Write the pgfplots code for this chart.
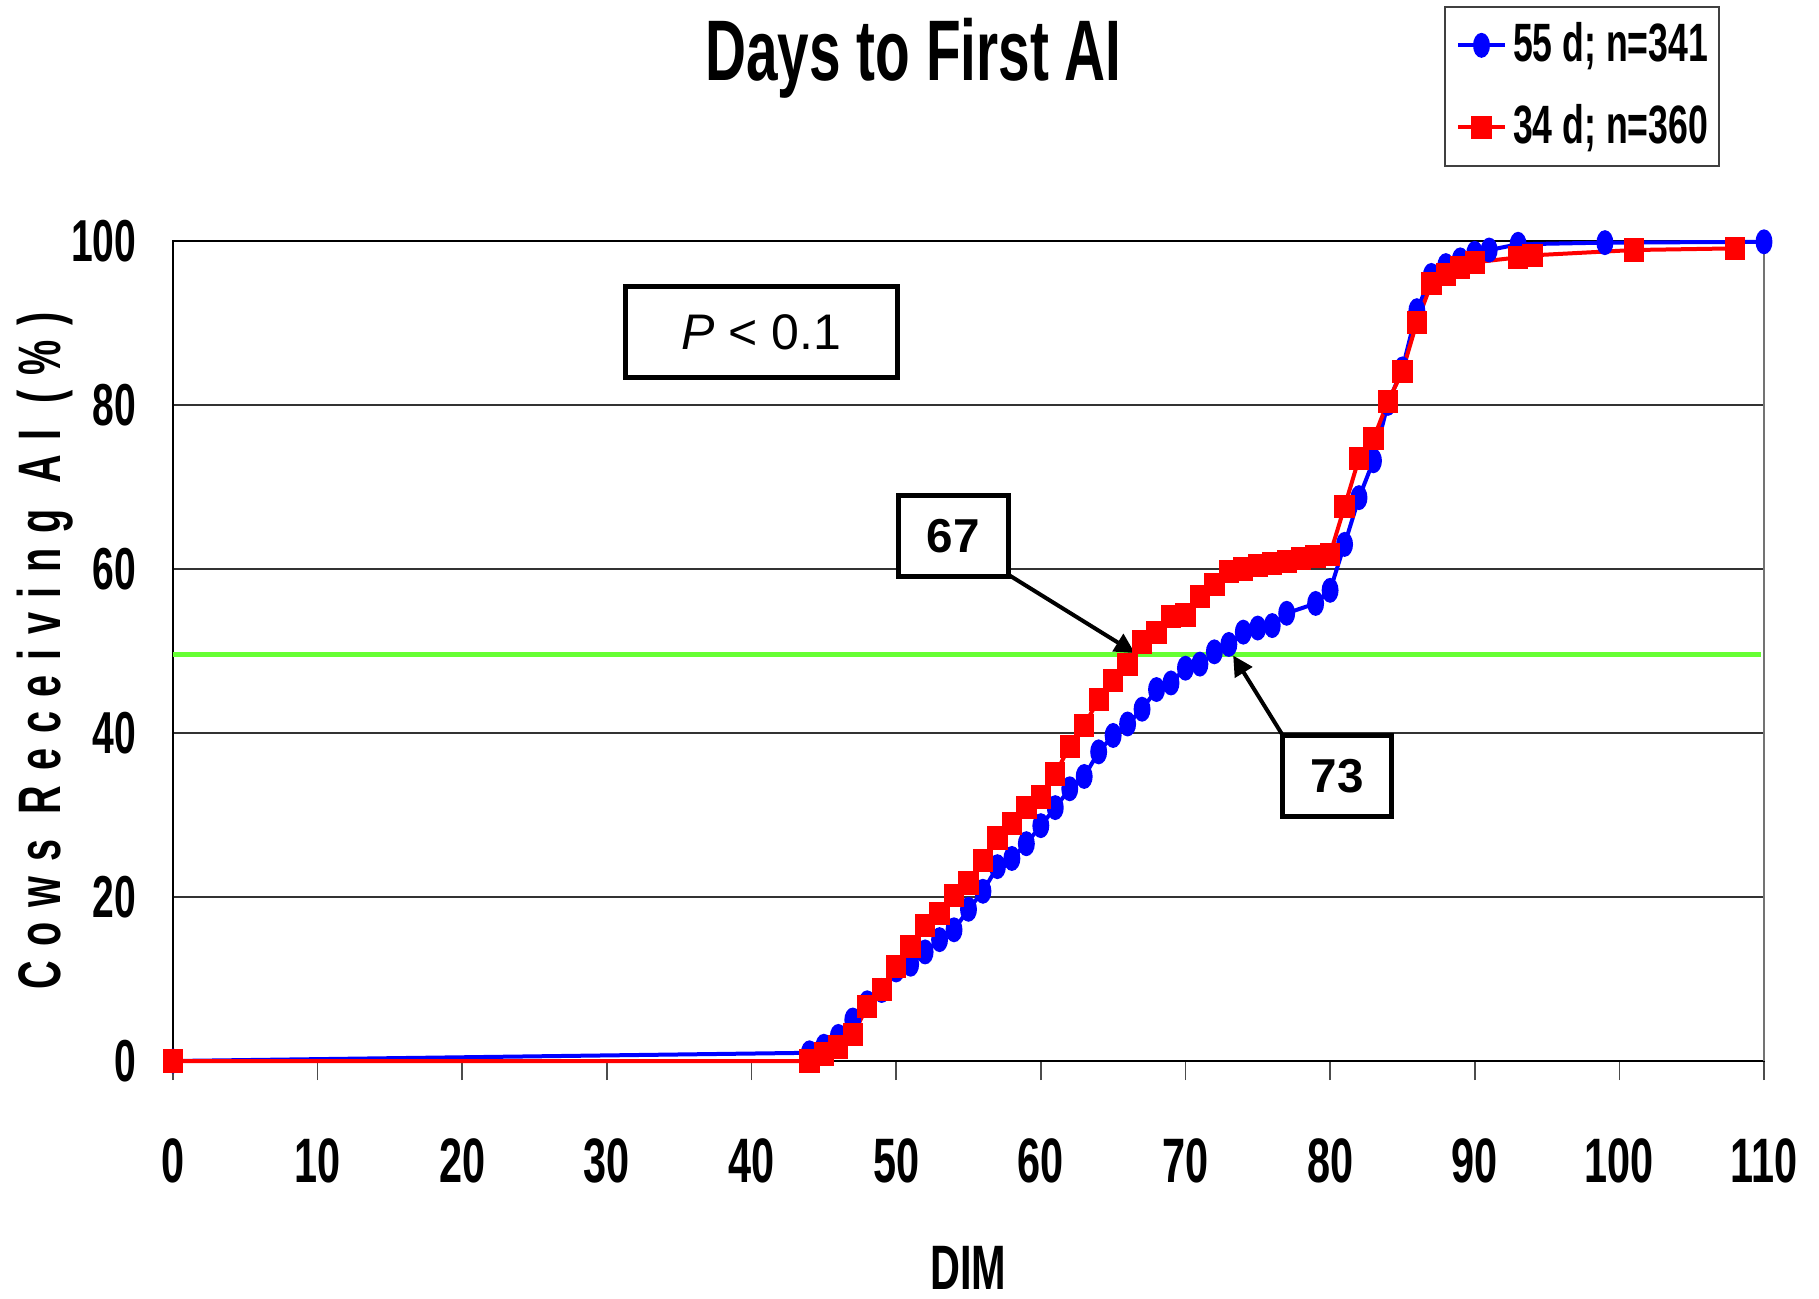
\documentclass[border=0pt]{standalone}
\usepackage{pgfplots}
\pgfplotsset{compat=1.18}
\usepackage{fontspec}
\setmainfont{Liberation Sans}
\newfontfamily\nb[FakeStretch=0.66]{Liberation Sans}
\newfontfamily\nbls[FakeStretch=0.66,LetterSpace=24.5]{Liberation Sans}
\usetikzlibrary{arrows.meta}
\definecolor{lgreen}{RGB}{102,255,51}
\begin{document}
\begin{tikzpicture}
\begin{axis}[
  at={(0bp,0bp)}, anchor=south west,
  width=397.75bp, height=205bp, scale only axis,
  xmin=0, xmax=110, ymin=0, ymax=100,
  xtick={0,10,...,110}, ytick={0,20,...,100},
  clip=false,
  /pgf/number format/assume math mode=true,
  axis line style={black, line width=0.4bp},
  ymajorgrids, major grid style={black!80, line width=0.35bp},
  tick align=outside, xtick pos=bottom,
  xtick style={black!70, line width=0.4bp}, major tick length=4.8bp,
  ytick style={draw=none},
  xticklabel style={font=\nb\bfseries\fontsize{15.7bp}{18bp}\selectfont, anchor=north, inner sep=0pt, yshift=-14.45bp},
  yticklabel style={font=\nb\bfseries\fontsize{14.8bp}{17bp}\selectfont, anchor=east, inner sep=0pt, xshift=-4.2bp},
  xlabel={DIM},
  xlabel style={font=\nb\bfseries\fontsize{15.7bp}{18bp}\selectfont, at={(axis description cs:0.5,-0.2792)}, anchor=base, inner sep=0pt},
  ylabel={Cows Receiving AI (\%)},
  ylabel style={font=\nbls\bfseries\fontsize{15bp}{18bp}\selectfont, at={(axis description cs:-0.0709,0.5)}, anchor=base, rotate=0, inner sep=0pt},
  title={Days to First AI},
  every axis title shift=0pt,
  title style={font=\nb\bfseries\fontsize{21.5bp}{24bp}\selectfont, at={(axis description cs:0.4655,1.1963)}, anchor=base, inner sep=0pt, yshift=0pt},
  legend cell align=left,
  legend image code/.code={\draw[#1,mark repeat=2,mark phase=2] plot coordinates {(0bp,0bp) (5.875bp,0bp) (11.75bp,0bp)};},
  legend style={at={(axis description cs:0.799,1.2866)}, anchor=north west,
    draw=black!75, line width=0.4bp,
    font=\nb\bfseries\fontsize{13.5bp}{16bp}\selectfont,
    inner xsep=2.75bp, inner ysep=4bp, row sep=9.2bp, column sep=1.5bp,
    nodes={inner sep=0pt}},
]
\addplot[blue, line width=1bp, mark=*, mark size=2.6bp, mark options={xscale=0.62, solid, fill=blue, draw=blue}] coordinates {
(0,0) (44,1.0) (45,1.8) (46,3.0) (47,5.0) (48,7.1) (49,8.6) (50,11.1) (51,11.8) (52,13.3) (53,14.8) (54,16.0) (55,18.5) (56,20.7) (57,23.7) (58,24.7) (59,26.5) (60,28.7) (61,30.9) (62,33.2) (63,34.7) (64,37.7) (65,39.7) (66,41.1) (67,42.9) (68,45.3) (69,46.1) (70,47.9) (71,48.4) (72,49.9) (73,50.8) (74,52.3) (75,52.8) (76,53.1) (77,54.6) (79,55.8) (80,57.4) (81,63.0) (82,68.7) (83,73.2) (84,80.2) (85,84.4) (86,91.5) (87,95.8) (88,97.0) (89,97.7) (90,98.5) (91,98.9) (93,99.6) (99,99.8) (110,99.9)
};
\addlegendentry{55 d; n=341}
\addplot[red, line width=1bp, mark=square*, mark size=2.4bp, mark options={xscale=0.85, solid, fill=red, draw=red}] coordinates {
(0,0) (44,0) (45,0.85) (46,1.7) (47,3.2) (48,6.6) (49,8.7) (50,11.5) (51,14.0) (52,16.5) (53,18.0) (54,20.2) (55,21.7) (56,24.5) (57,27.2) (58,29.0) (59,30.9) (60,32.2) (61,35.0) (62,38.4) (63,40.9) (64,44.1) (65,46.4) (66,48.4) (67,51.1) (68,52.3) (69,54.2) (70,54.4) (71,56.6) (72,58.1) (73,59.7) (74,60.0) (75,60.4) (76,60.7) (77,60.9) (78,61.3) (79,61.5) (80,61.8) (81,67.6) (82,73.5) (83,75.9) (84,80.4) (85,84.1) (86,90.1) (87,94.8) (88,95.9) (89,96.8) (90,97.4) (93,98.0) (94,98.25) (101,98.9) (108,99.1)
};
\addlegendentry{34 d; n=360}
\addplot[lgreen, line width=1.25bp, forget plot] coordinates {(0,49.6) (109.8,49.6)};
\draw[black!55, line width=0.5bp] (axis cs:110,0) -- (axis cs:110,100);
\node[draw=black, line width=1.25bp, minimum width=68bp, minimum height=22.6bp, inner sep=0pt, font=\fontsize{12.5bp}{15bp}\selectfont] at (axis cs:40.67,88.9) {\textit{P} < 0.1};
\node[draw=black, line width=1.25bp, fill=white, minimum width=27.5bp, minimum height=20.2bp, inner sep=0pt, font=\bfseries\fontsize{11.9bp}{14bp}\selectfont] at (axis cs:53.94,64.04) {67};
\node[draw=black, line width=1.25bp, fill=white, minimum width=27.3bp, minimum height=20.2bp, inner sep=0pt, font=\bfseries\fontsize{11.9bp}{14bp}\selectfont] at (axis cs:80.5,34.77) {73};
\draw[line width=1bp, -{Triangle[length=5bp,width=5bp]}] (axis cs:57.85,59.2) -- (axis cs:66.5,49.75);
\draw[line width=1bp, -{Triangle[length=5bp,width=5bp]}] (axis cs:76.73,39.7) -- (axis cs:73.3,49.45);
\end{axis}
\pgfresetboundingbox
\path[use as bounding box] (-43.25bp,-59.5bp) rectangle (411.5bp,265.25bp);
\end{tikzpicture}
\end{document}
